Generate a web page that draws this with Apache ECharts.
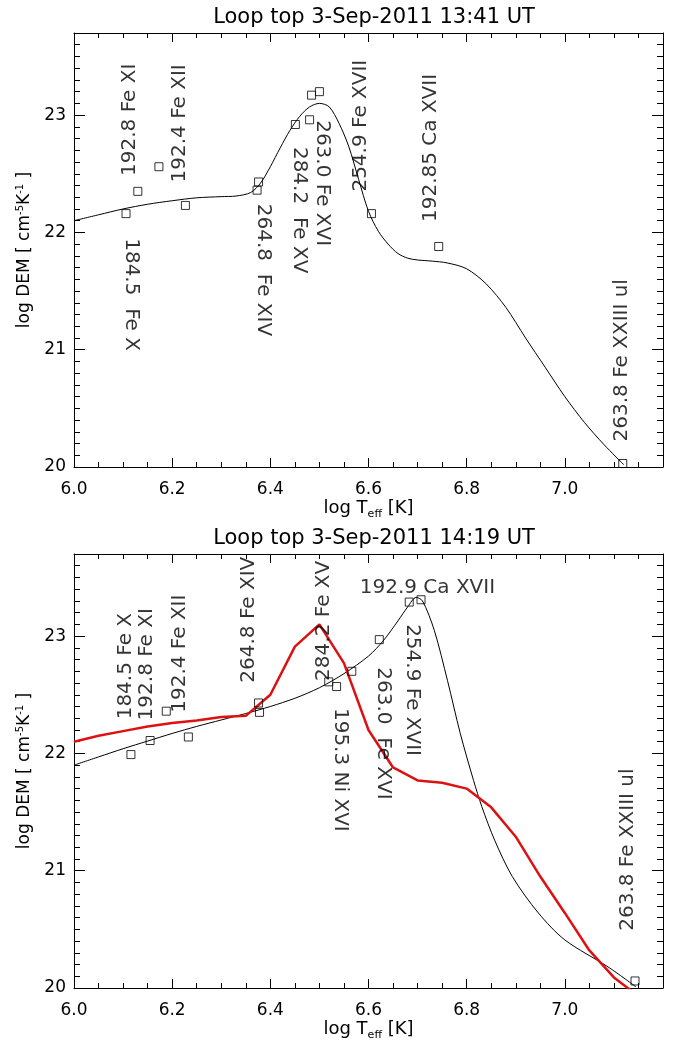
<!DOCTYPE html>
<html><head><meta charset="utf-8">
<script src="https://cdn.jsdelivr.net/npm/echarts@6/dist/echarts.min.js"></script>
<style>html,body{margin:0;padding:0;background:#fff}#c{width:681px;height:1043px}</style>
</head><body><div id="c"></div>
<script>
// ---------- data ----------
const titles = ['Loop top 3-Sep-2011 13:41 UT', 'Loop top 3-Sep-2011 14:19 UT'];
// top panel smooth DEM curve
const topCurveT = [6.00,6.05,6.10,6.15,6.20,6.25,6.30,6.33,6.36,6.38,6.40,6.42,6.44,6.46,6.48,6.50,6.52,6.54,6.56,6.58,6.60,6.62,6.64,6.66,6.68,6.70,6.73,6.76,6.80,6.84,6.88,6.92,6.96,7.00,7.04,7.08,7.12];
const topCurveD = [22.10,22.15,22.20,22.24,22.27,22.295,22.305,22.31,22.34,22.42,22.56,22.72,22.87,22.99,23.07,23.10,23.07,22.93,22.73,22.45,22.18,22.01,21.90,21.82,21.78,21.765,21.755,21.74,21.69,21.56,21.36,21.10,20.85,20.60,20.38,20.19,20.02];
// top panel measured points
const topPtsT = [6.106,6.130,6.173,6.227,6.373,6.376,6.451,6.480,6.484,6.500,6.606,6.743,7.118];
const topPtsD = [22.16,22.35,22.56,22.23,22.36,22.43,22.92,22.96,23.17,23.20,22.16,21.88,20.03];
// top panel line labels
const topLabText = ['192.8 Fe XI','192.4 Fe XII','264.8  Fe XIV','284.2  Fe XV','263.0 Fe XVI','254.9 Fe XVII','192.85 Ca XVII','184.5  Fe X','263.8 Fe XXIII ul'];
const topLabT    = [6.114,6.216,6.386,6.459,6.506,6.584,6.727,6.116,7.116];
const topLabD    = [22.96,22.93,21.68,22.19,22.42,22.91,22.72,21.47,20.91];
const topLabRot  = [90,90,-90,-90,-90,90,90,-90,90];

// bottom panel smooth DEM curve
const botCurveT = [6.00,6.05,6.10,6.15,6.20,6.25,6.30,6.35,6.40,6.45,6.50,6.55,6.60,6.63,6.66,6.68,6.697,6.71,6.734,6.761,6.787,6.814,6.831,6.857,6.893,6.946,7.00,7.088,7.145];
const botCurveD = [21.90,21.97,22.04,22.105,22.17,22.23,22.285,22.34,22.40,22.47,22.56,22.68,22.83,22.96,23.13,23.25,23.33,23.30,23.05,22.62,22.17,21.77,21.545,21.26,20.95,20.64,20.41,20.18,20.01];
// bottom panel red curve (earlier DEM)
const redT = [6.00,6.05,6.10,6.15,6.20,6.25,6.30,6.35,6.40,6.45,6.50,6.55,6.60,6.65,6.70,6.75,6.80,6.85,6.90,6.95,7.00,7.05,7.10,7.15];
const redD = [22.10,22.15,22.19,22.23,22.26,22.28,22.31,22.32,22.50,22.91,23.10,22.77,22.20,21.88,21.77,21.75,21.70,21.54,21.29,20.95,20.64,20.32,20.09,19.93];
// bottom panel measured points
const botPtsT = [6.116,6.155,6.188,6.233,6.376,6.378,6.519,6.535,6.566,6.622,6.683,6.707,7.143];
const botPtsD = [21.99,22.11,22.36,22.14,22.43,22.35,22.61,22.57,22.70,22.97,23.29,23.31,20.06];
// bottom panel line labels
const botLabText = ['184.5 Fe X','192.8 Fe XI','192.4 Fe XII','264.8 Fe XIV','284.2 Fe XV','192.9 Ca XVII','254.9 Fe XVII','263.0  Fe XVI','195.3 Ni XVI','263.8 Fe XXIII ul'];
const botLabT    = [6.106,6.149,6.216,6.357,6.508,6.720,6.690,6.629,6.543,7.129];
const botLabD    = [22.744,22.76,22.85,23.14,23.13,23.41,22.54,22.17,21.86,21.18];
const botLabRot  = [90,90,90,90,90,0,-90,-90,-90,90];

const xRange = [6.0, 7.2], xStep = 0.2;
const yRange = [20, 23.7], yStep = 1;

// ---------- build ----------
const FONT = 'DejaVu Sans';
const zip = (a, b) => a.map((v, i) => [v, b[i]]);
const grids = [
  {left: 74, top: 33, width: 589, height: 434, outerBoundsMode: 'none'},
  {left: 74, top: 554, width: 589, height: 434, outerBoundsMode: 'none'}
];
const tickStyle = {show: true, inside: true, lineStyle: {color: '#000', width: 1}};
function xAxes(g) {
  const base = {type: 'value', gridIndex: g, min: xRange[0], max: xRange[1], interval: xStep,
    axisLine: {show: true, onZero: false, lineStyle: {color: '#000', width: 1}},
    splitLine: {show: false}};
  return [
    Object.assign({}, base, {position: 'bottom',
      axisTick: Object.assign({length: 9}, tickStyle),
      minorTick: {show: true, splitNumber: 4, length: 5, lineStyle: {color: '#000', width: 1}},
      axisLabel: {show: true, margin: 14, color: '#000', fontFamily: FONT, fontSize: 17,
        formatter: v => (v < 7.1 ? v.toFixed(1) : '')},
      name: 'log T{sub|eff} [K]', nameLocation: 'middle', nameGap: 29,
      nameTextStyle: {color: '#000', fontFamily: FONT, fontSize: 18,
        rich: {sub: {fontSize: 11, verticalAlign: 'bottom', padding: [13, 0, 0, 0], fontFamily: FONT, color: '#000'}}}
    }),
    Object.assign({}, base, {position: 'top',
      axisTick: Object.assign({length: 9}, tickStyle),
      minorTick: {show: true, splitNumber: 4, length: 5, lineStyle: {color: '#000', width: 1}},
      axisLabel: {show: false}})
  ];
}
function yAxes(g) {
  const base = {type: 'value', gridIndex: g, min: yRange[0], max: yRange[1], interval: yStep,
    axisLine: {show: true, onZero: false, lineStyle: {color: '#000', width: 1}},
    splitLine: {show: false}};
  return [
    Object.assign({}, base, {position: 'left',
      axisTick: Object.assign({length: 11}, tickStyle),
      minorTick: {show: true, splitNumber: 10, length: 6, lineStyle: {color: '#000', width: 1}},
      axisLabel: {show: true, margin: 8, color: '#000', fontFamily: FONT, fontSize: 17,
        formatter: v => (Math.abs(v - Math.round(v)) < 1e-6 ? String(Math.round(v)) : '')},
      name: 'log DEM [ cm{sup|-5}K{sup|-1} ]', nameLocation: 'middle', nameGap: 34, nameRotate: 90,
      nameTextStyle: {color: '#000', fontFamily: FONT, fontSize: 17,
        rich: {sup: {fontSize: 10, verticalAlign: 'top', padding: [0, 0, 9, 0], fontFamily: FONT, color: '#000'}}}
    }),
    Object.assign({}, base, {position: 'right',
      axisTick: Object.assign({length: 11}, tickStyle),
      minorTick: {show: true, splitNumber: 10, length: 6, lineStyle: {color: '#000', width: 1}},
      axisLabel: {show: false}})
  ];
}
function labelSeries(xi, yi, T, D, txt, rot) {
  return {type: 'scatter', xAxisIndex: xi, yAxisIndex: yi, symbolSize: 1, silent: true,
    itemStyle: {color: 'rgba(0,0,0,0)'}, z: 5,
    data: T.map((t, i) => ({value: [t, D[i]], name: txt[i],
      label: {rotate: rot[i]}})),
    label: {show: true, position: 'inside', formatter: p => p.name, color: '#000',
      fontFamily: FONT, fontSize: 20}};
}
const sq = {type: 'scatter', symbol: 'rect', symbolSize: 8,
  itemStyle: {color: 'rgba(0,0,0,0)', borderColor: '#000', borderWidth: 1}, z: 4};

const option = {
  backgroundColor: '#fff',
  animation: false,
  title: [
    {text: titles[0], left: 369, top: 2, textAlign: 'center',
      textStyle: {fontFamily: FONT, fontSize: 21, fontWeight: 'normal', color: '#000'}},
    {text: titles[1], left: 369, top: 523, textAlign: 'center',
      textStyle: {fontFamily: FONT, fontSize: 21, fontWeight: 'normal', color: '#000'}}
  ],
  grid: grids,
  xAxis: [...xAxes(0), ...xAxes(1)],
  yAxis: [...yAxes(0), ...yAxes(1)],
  series: [
    {type: 'line', xAxisIndex: 0, yAxisIndex: 0, data: zip(topCurveT, topCurveD), smooth: 0.3,
      showSymbol: false, lineStyle: {color: '#000', width: 1}, z: 3},
    Object.assign({}, sq, {xAxisIndex: 0, yAxisIndex: 0, data: zip(topPtsT, topPtsD)}),
    labelSeries(0, 0, topLabT, topLabD, topLabText, topLabRot),
    {type: 'line', xAxisIndex: 2, yAxisIndex: 2, data: zip(botCurveT, botCurveD), smooth: 0.3,
      showSymbol: false, lineStyle: {color: '#000', width: 1}, z: 3},
    {type: 'line', xAxisIndex: 2, yAxisIndex: 2, data: zip(redT, redD), smooth: false,
      showSymbol: false, lineStyle: {color: '#dd1111', width: 2.5}, z: 3},
    Object.assign({}, sq, {xAxisIndex: 2, yAxisIndex: 2, data: zip(botPtsT, botPtsD)}),
    labelSeries(2, 2, botLabT, botLabD, botLabText, botLabRot)
  ]
};
const chart = echarts.init(document.getElementById('c'), null, {renderer: 'canvas'});
chart.setOption(option);
</script>
</body></html>
